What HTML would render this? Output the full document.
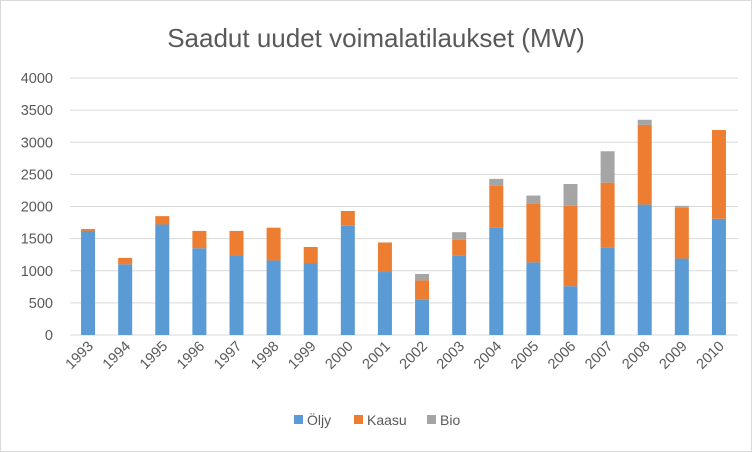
<!DOCTYPE html>
<html><head><meta charset="utf-8"><style>
body{margin:0;background:#fff}
svg{display:block;font-family:"Liberation Sans","DejaVu Sans",sans-serif}
</style></head><body>
<svg id="chart" width="752" height="452">
<rect x="0.5" y="0.5" width="751" height="451" fill="#fff" stroke="#d9d9d9"/>
<text x="376" y="47" text-anchor="middle" font-size="26" fill="#595959">Saadut uudet voimalatilaukset (MW)</text>
<g id="grid"></g><g id="bars"></g><g id="xl"></g>
<g font-size="14" fill="#595959">
<g><rect x="294" y="415" width="9" height="9" fill="#5b9bd5"/><text x="307" y="425">Öljy</text></g>
<g><rect x="354" y="415" width="9" height="9" fill="#ed7d31"/><text x="367" y="425">Kaasu</text></g>
<g><rect x="427" y="415" width="9" height="9" fill="#a5a5a5"/><text x="440" y="425">Bio</text></g>
</g>
</svg>
<script>
const years=["1993","1994","1995","1996","1997","1998","1999","2000","2001","2002","2003","2004","2005","2006","2007","2008","2009","2010"];
const oljy=[1620,1100,1720,1350,1230,1160,1120,1700,980,550,1240,1670,1130,760,1360,2030,1190,1810];
const kaasu=[30,100,130,270,390,510,250,230,460,300,240,650,920,1250,1010,1240,790,1380];
const bio=[0,0,0,0,0,0,0,0,0,100,120,110,120,340,490,80,30,0];
const yTicks=[0,500,1000,1500,2000,2500,3000,3500,4000];
const NS="http://www.w3.org/2000/svg";
const x0=70,x1=738,y0=335,yTop=78,yMax=4000;
const y=v=>y0-(v/yMax)*(y0-yTop);
const step=(x1-x0)/years.length;
const xc=i=>x0+step*(i+0.5)-0.5;
function mk(t,a,p){const e=document.createElementNS(NS,t);for(const k in a)e.setAttribute(k,a[k]);p.appendChild(e);return e;}
const grid=document.getElementById('grid');
yTicks.forEach(v=>{
 const l=mk('line',{x1:x0,x2:x1,y1:y(v),y2:y(v),stroke:'#d9d9d9','stroke-width':1},grid);
 
 
 const t=mk('text',{x:53,y:y(v)+5,'text-anchor':'end','font-size':14.5,fill:'#595959'},grid);
 t.textContent=v;
 
 
});
const bars=document.getElementById('bars');
const series=[[oljy,'#5b9bd5','oljy'],[kaasu,'#ed7d31','kaasu'],[bio,'#a5a5a5','bio']];
const bw=14;
years.forEach((yr,i)=>{
 let base=0;
 series.forEach(([arr,c,n])=>{
  const v=arr[i];if(v<=0)return;
  const r=mk('rect',{x:xc(i)-bw/2,y:y(base+v),width:bw,height:y(base)-y(base+v),fill:c},bars);
  
  
  base+=v;
 });
 const t=mk('text',{transform:`translate(${xc(i)+6},${y0+12}) rotate(-45)`,'text-anchor':'end','font-size':14.5,fill:'#595959'},document.getElementById('xl'));
 t.textContent=yr;
 
 
});
</script>
</body></html>
